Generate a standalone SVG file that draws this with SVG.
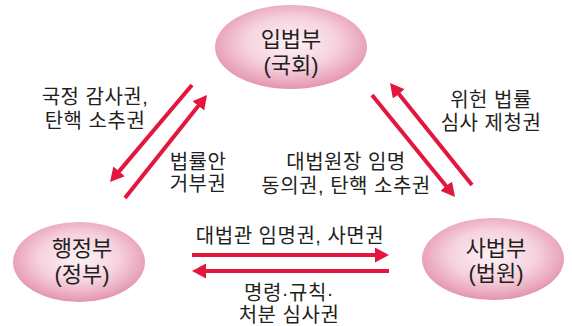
<svg xmlns="http://www.w3.org/2000/svg" width="572" height="326" viewBox="0 0 572 326">
<style>
text{font-family:"Liberation Sans","Noto Sans CJK KR",sans-serif;fill:#231f20;text-anchor:middle}
.node{font-size:22px}
.lbl{font-size:20px;letter-spacing:0.5px}
.arr{stroke:#e3173e;stroke-width:4;fill:none;marker-end:url(#ah)}
.ell{fill:url(#pink)}
</style>
<defs>
<radialGradient id="pink" cx="50%" cy="45%" r="55%">
<stop offset="0" stop-color="#fdf2f6"/>
<stop offset="0.55" stop-color="#f6d2de"/>
<stop offset="0.9" stop-color="#e9a3b8"/>
<stop offset="1" stop-color="#e393ab"/>
</radialGradient>
<marker id="ah" markerUnits="userSpaceOnUse" markerWidth="16" markerHeight="16" refX="4" refY="7.5" orient="auto">
<path d="M0,0 L14,7.5 L0,15 z" fill="#e3173e"/>
</marker>
</defs>
<rect width="572" height="326" fill="#ffffff"/>
<g id="connectors">
<line class="arr" x1="192" y1="85" x2="116.5" y2="174.4"/>
<line class="arr" x1="125" y1="198" x2="200.8" y2="102.8"/>
<line class="arr" x1="372" y1="95" x2="448.7" y2="189.2"/>
<line class="arr" x1="472" y1="185" x2="396.3" y2="90.8"/>
<line class="arr" x1="192" y1="255" x2="379" y2="255"/>
<line class="arr" x1="389" y1="271" x2="202" y2="271"/>
<text class="lbl" x="95" y="104">국정 감사권,<tspan x="95" dy="23.5">탄핵 소추권</tspan></text>
<text class="lbl" x="198" y="168.5">법률안<tspan x="198" dy="22.5">거부권</tspan></text>
<text class="lbl" x="346" y="169">대법원장 임명<tspan x="346" dy="23.5">동의권, 탄핵 소추권</tspan></text>
<text class="lbl" x="491" y="107">위헌 법률<tspan x="491" dy="23">심사 제청권</tspan></text>
<text class="lbl" x="290" y="243">대법관 임명권, 사면권</text>
<text class="lbl" x="289" y="299.5">명령·규칙·<tspan x="289" dy="22.5">처분 심사권</tspan></text>
</g>
<g id="legislature">
<ellipse class="ell" cx="291" cy="47" rx="76" ry="42"/>
<text class="node" x="291" y="47">입법부<tspan x="291" dy="26">(국회)</tspan></text>
</g>
<g id="executive">
<ellipse class="ell" cx="79" cy="262" rx="66" ry="40"/>
<text class="node" x="82" y="256">행정부<tspan x="82" dy="26">(정부)</tspan></text>
</g>
<g id="judiciary">
<ellipse class="ell" cx="493" cy="259" rx="71" ry="41"/>
<text class="node" x="496" y="256">사법부<tspan x="496" dy="25">(법원)</tspan></text>
</g>
</svg>
